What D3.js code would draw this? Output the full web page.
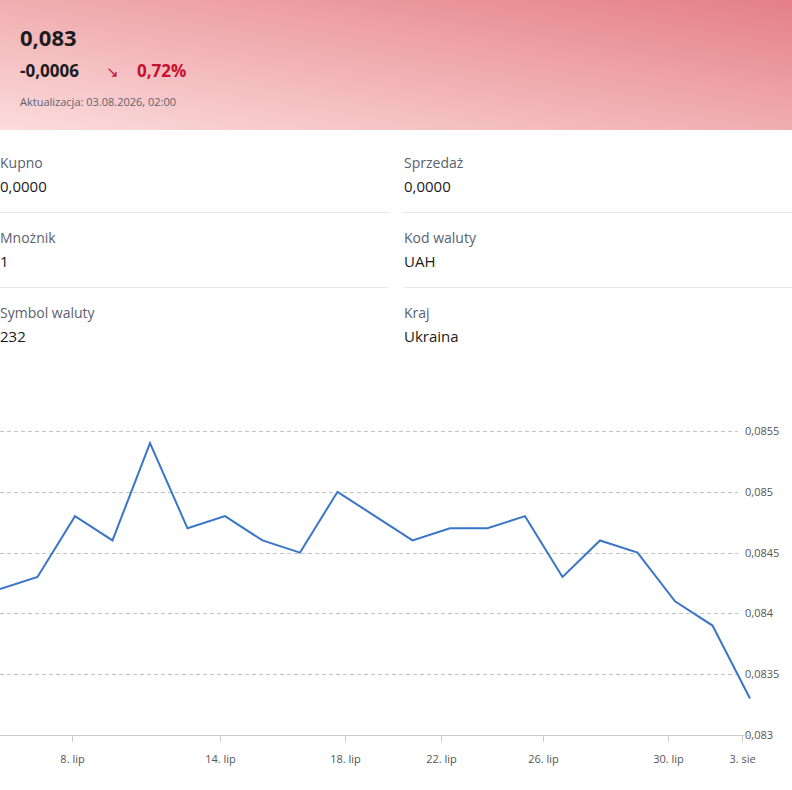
<!DOCTYPE html>
<html><head><meta charset="utf-8">
<script src="https://cdn.jsdelivr.net/npm/d3@7"></script>
<style>
body{margin:0;background:#fff;font-family:"Open Sans",sans-serif;}
</style></head>
<body><div id="chart"></div>
<script>
// notowania UAH, dni robocze 6.07 - 3.08
const dates = ["6.07","7.07","8.07","9.07","10.07","13.07","14.07","15.07","16.07","17.07","20.07","21.07","22.07","23.07","24.07","27.07","28.07","29.07","30.07","31.07","3.08"];
const values = [0.0842,0.0843,0.0848,0.0846,0.0854,0.0847,0.0848,0.0846,0.0845,0.0850,0.0848,0.0846,0.0847,0.0847,0.0848,0.0843,0.0846,0.0845,0.0841,0.0839,0.0833];
const tickLabels = ["8. lip","14. lip","18. lip","22. lip","26. lip","30. lip","3. sie"];
const tickIdx = [1.92,5.87,9.2,11.76,14.48,17.81,19.79];
const yTicks = [0.083,0.0835,0.084,0.0845,0.085,0.0855];
const info = [["Kupno","0,0000"],["Sprzedaż","0,0000"],["Mnożnik","1"],["Kod waluty","UAH"],["Symbol waluty","232"],["Kraj","Ukraina"]];

const W = 792, H = 790;
const svg = d3.select("#chart").append("svg").attr("width", W).attr("height", H);

let grad = svg.append("defs").append("linearGradient").attr("id","hg")
    .attr("x1","0%").attr("y1","100%").attr("x2","100%").attr("y2","0%");
grad.append("stop").attr("offset","0%").attr("stop-color","#fcdcdc");
grad.append("stop").attr("offset","100%").attr("stop-color","#e47f86");
svg.append("rect").attr("width", W).attr("height", 130).attr("fill","url(#hg)");

svg.append("text").attr("x",20).attr("y",46).text("0,083")
   .attr("font-size",22).attr("font-weight",700).attr("fill","#1c1c1c");
svg.append("text").attr("x",20).attr("y",77).text("-0,0006")
   .attr("font-size",17).attr("font-weight",700).attr("fill","#1c1c1c");
svg.append("text").attr("x",106).attr("y",77).text("↘")
   .attr("font-size",15).attr("fill","#c8102e");
svg.append("text").attr("x",137).attr("y",77).text("0,72%")
   .attr("font-size",17).attr("font-weight",700).attr("fill","#c8102e");
svg.append("text").attr("x",20).attr("y",106).text("Aktualizacja: 03.08.2026, 02:00")
   .attr("font-size",11).attr("fill","#5f6370");

// tabelka z danymi
let cells = svg.selectAll("g.info").data(info).join("g")
   .attr("transform", (d,i) => "translate(" + (i%2 ? 404 : 0) + "," + (Math.floor(i/2)*75) + ")");
cells.append("text").attr("y",168).text(d => d[0]).attr("font-size",14).attr("fill","#5a6170");
cells.append("text").attr("y",192).text(d => d[1]).attr("font-size",15).attr("fill","#1a1a1a");
cells.filter((d,i) => i < 4).append("line").attr("x1",0).attr("x2",388).attr("y1",212.5).attr("y2",212.5)
   .attr("stroke","#e6e6e6");

// wykres
let x = d3.scaleLinear().domain([0, values.length-1]).range([0, 750]);
let y = d3.scaleLinear().domain([0.083, 0.0855]).range([735, 431]);

svg.selectAll("line.grid").data(yTicks.slice(1)).join("line").attr("class","grid")
   .attr("x1",0).attr("x2",738).attr("y1", d => Math.round(y(d))+0.5).attr("y2", d => Math.round(y(d))+0.5)
   .attr("stroke","#c4c4c4").attr("stroke-dasharray","4,3");
svg.selectAll("text.yl").data(yTicks).join("text").attr("class","yl")
   .attr("x",745).attr("y", d => y(d)+4).text(d => String(d).replace(".",","))
   .attr("font-size",11).attr("fill","#555");

svg.append("line").attr("x1",0).attr("x2",750).attr("y1",735.5).attr("y2",735.5).attr("stroke","#ccc");
let xt = svg.selectAll("g.xt").data(tickIdx).join("g").attr("transform", d => "translate(" + Math.round(x(d)) + ".5,0)");
xt.append("line").attr("y1",735).attr("y2",742).attr("stroke","#ccc");
xt.append("text").attr("y",763).attr("text-anchor","middle").text((d,i) => tickLabels[i])
   .attr("font-size",11).attr("fill","#555");

svg.append("path").datum(values)
   .attr("d", d3.line().x((d,i) => x(i)).y(d => y(d)))
   .attr("fill","none").attr("stroke","#3a76c8").attr("stroke-width",2);
</script></body></html>
